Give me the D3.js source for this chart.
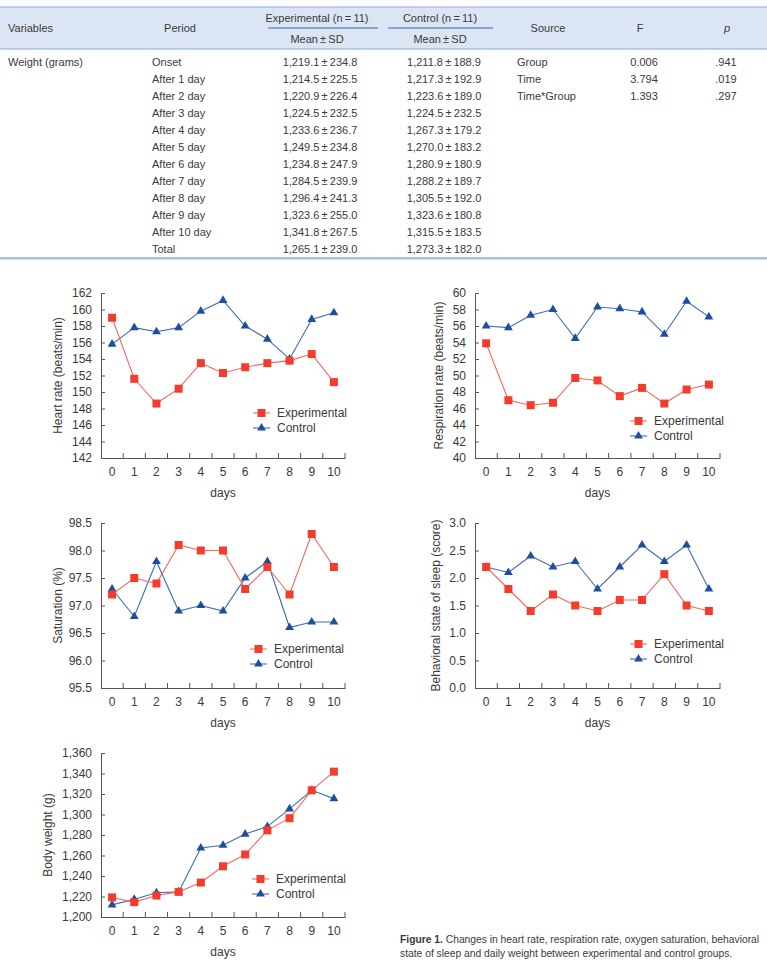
<!DOCTYPE html>
<html>
<head>
<meta charset="utf-8">
<script src="https://cdn.jsdelivr.net/npm/d3@7"></script>
<style>
  body { margin: 0; background: #fff; }
  svg text { font-family: "Liberation Sans Narrow", "Liberation Sans", "Open Sans", sans-serif; fill: #3a3a3a; }
</style>
</head>
<body>
<div id="vis"></div>
<script>
const width = 767;
const height = 961;

// table data
const periods = ["Onset", "After 1 day", "After 2 day", "After 3 day", "After 4 day", "After 5 day",
  "After 6 day", "After 7 day", "After 8 day", "After 9 day", "After 10 day", "Total"];
const expMean = ["1,219.1", "1,214.5", "1,220.9", "1,224.5", "1,233.6", "1,249.5", "1,234.8", "1,284.5", "1,296.4", "1,323.6", "1,341.8", "1,265.1"];
const expSD = ["234.8", "225.5", "226.4", "232.5", "236.7", "234.8", "247.9", "239.9", "241.3", "255.0", "267.5", "239.0"];
const ctlMean = ["1,211.8", "1,217.3", "1,223.6", "1,224.5", "1,267.3", "1,270.0", "1,280.9", "1,288.2", "1,305.5", "1,323.6", "1,315.5", "1,273.3"];
const ctlSD = ["188.9", "192.9", "189.0", "232.5", "179.2", "183.2", "180.9", "189.7", "192.0", "180.8", "183.5", "182.0"];
const sources = ["Group", "Time", "Time*Group"];
const fVals = ["0.006", "3.794", "1.393"];
const pVals = [".941", ".019", ".297"];

// chart data
const days = [0, 1, 2, 3, 4, 5, 6, 7, 8, 9, 10];
const hrExp = [159.0, 151.6, 148.6, 150.4, 153.5, 152.3, 153.0, 153.5, 153.8, 154.6, 151.2];
const hrCtl = [155.8, 157.8, 157.3, 157.8, 159.8, 161.1, 158.0, 156.4, 154.0, 158.8, 159.6];
const rrExp = [53.9, 47.0, 46.4, 46.7, 49.7, 49.4, 47.5, 48.5, 46.6, 48.3, 48.9];
const rrCtl = [56.0, 55.8, 57.3, 58.0, 54.5, 58.3, 58.1, 57.7, 55.0, 59.0, 57.1];
const satExp = [97.2, 97.5, 97.4, 98.1, 98.0, 98.0, 97.3, 97.7, 97.2, 98.3, 97.7];
const satCtl = [97.3, 96.8, 97.8, 96.9, 97.0, 96.9, 97.5, 97.8, 96.6, 96.7, 96.7];
const sleepExp = [2.2, 1.8, 1.4, 1.7, 1.5, 1.4, 1.6, 1.6, 2.07, 1.5, 1.4];
const sleepCtl = [2.2, 2.1, 2.4, 2.2, 2.3, 1.8, 2.2, 2.6, 2.3, 2.6, 1.8];
const bwExp = [1219.1, 1214.5, 1220.9, 1224.5, 1233.6, 1249.5, 1261.0, 1284.5, 1296.4, 1323.6, 1341.8];
const bwCtl = [1211.8, 1217.3, 1223.6, 1224.5, 1267.3, 1270.0, 1280.9, 1288.2, 1305.5, 1323.6, 1315.5];
const seriesNames = ["Experimental", "Control"];

const red = "#f43c2c", redLine = "#f26a5c";
const blue = "#1d4f9f", blueLine = "#3d6cb6";

const svg = d3.select("#vis").append("svg")
  .attr("width", width)
  .attr("height", height);

drawTable();

// chart boxes: left/right of x axis, top/bottom of y axis
const charts = [
  { exp: hrExp, ctl: hrCtl, domain: [142, 162], ticks: d3.range(142, 163, 2), fmt: d3.format("d"),
    label: "Heart rate (beats/min)", x0: 101, x1: 345, top: 293, bottom: 458, labX: 58, legX: 253, legY: 413 },
  { exp: rrExp, ctl: rrCtl, domain: [40, 60], ticks: d3.range(40, 61, 2), fmt: d3.format("d"),
    label: "Respiration rate (beats/min)", x0: 475, x1: 720, top: 293, bottom: 458, labX: 439, legX: 630, legY: 421 },
  { exp: satExp, ctl: satCtl, domain: [95.5, 98.5], ticks: d3.range(95.5, 98.51, 0.5), fmt: d3.format(".1f"),
    label: "Saturation (%)", x0: 101, x1: 345, top: 523, bottom: 688, labX: 58, legX: 250, legY: 649 },
  { exp: sleepExp, ctl: sleepCtl, domain: [0, 3], ticks: d3.range(0, 3.01, 0.5), fmt: d3.format(".1f"),
    label: "Behavioral state of sleep (score)", x0: 475, x1: 720, top: 523, bottom: 688, labX: 436, legX: 630, legY: 644 },
  { exp: bwExp, ctl: bwCtl, domain: [1200, 1360], ticks: d3.range(1200, 1361, 20), fmt: d3.format(","),
    label: "Body weight (g)", x0: 101, x1: 345, top: 753, bottom: 917, labX: 48, legX: 252, legY: 879 }
];

charts.forEach(drawChart);

// caption, squeezed horizontally to fit right of the last chart
const capG = svg.append("g").attr("transform", "translate(400,0) scale(0.895,1)");
const cap = capG.append("text").attr("x", 0).attr("y", 943).style("font-size", "11.5px");
cap.append("tspan").style("font-weight", "bold").text("Figure 1.");
cap.append("tspan").text(" Changes in heart rate, respiration rate, oxygen saturation, behavioral");
capG.append("text").attr("x", 0).attr("y", 957).style("font-size", "11.5px")
  .text("state of sleep and daily weight between experimental and control groups.");

function drawTable() {
  const g = svg.append("g").style("font-size", "11px");

  g.append("rect").attr("x", 0).attr("y", 7).attr("width", width).attr("height", 42).attr("fill", "#dce5f4");
  g.append("line").attr("x1", 0).attr("x2", width).attr("y1", 7).attr("y2", 7).attr("stroke", "#8ca7d6").attr("stroke-width", 1);
  g.append("line").attr("x1", 0).attr("x2", width).attr("y1", 49).attr("y2", 49).attr("stroke", "#8ca7d6").attr("stroke-width", 1);
  g.append("line").attr("x1", 268).attr("x2", 378).attr("y1", 28).attr("y2", 28).attr("stroke", "#6d8fcb").attr("stroke-width", 1.4);
  g.append("line").attr("x1", 388).attr("x2", 493).attr("y1", 28).attr("y2", 28).attr("stroke", "#6d8fcb").attr("stroke-width", 1.4);

  const head = [
    { t: "Variables", x: 8, y: 32, a: "start" },
    { t: "Period", x: 180, y: 32, a: "middle" },
    { t: "Experimental (n\u2009=\u200911)", x: 317, y: 22, a: "middle" },
    { t: "Control (n\u2009=\u200911)", x: 440, y: 22, a: "middle" },
    { t: "Mean\u2009\u00b1\u2009SD", x: 317, y: 43, a: "middle" },
    { t: "Mean\u2009\u00b1\u2009SD", x: 440, y: 43, a: "middle" },
    { t: "Source", x: 548, y: 32, a: "middle" },
    { t: "F", x: 640, y: 32, a: "middle" }
  ];
  g.selectAll(".head").data(head).enter().append("text")
    .attr("x", d => d.x).attr("y", d => d.y).attr("text-anchor", d => d.a).text(d => d.t);
  g.append("text").attr("x", 727).attr("y", 32).attr("text-anchor", "middle")
    .style("font-style", "italic").text("p");

  const rowY = i => 66 + i * 17;
  g.append("text").attr("x", 8).attr("y", rowY(0)).text("Weight (grams)");
  g.selectAll(".per").data(periods).enter().append("text")
    .attr("x", 152).attr("y", (d, i) => rowY(i)).text(d => d);
  g.selectAll(".em").data(expMean).enter().append("text")
    .attr("x", 320).attr("y", (d, i) => rowY(i)).attr("text-anchor", "middle")
    .text((d, i) => d + "\u2009\u00b1\u2009" + expSD[i]);
  g.selectAll(".cm").data(ctlMean).enter().append("text")
    .attr("x", 444).attr("y", (d, i) => rowY(i)).attr("text-anchor", "middle")
    .text((d, i) => d + "\u2009\u00b1\u2009" + ctlSD[i]);
  g.selectAll(".src").data(sources).enter().append("text")
    .attr("x", 517).attr("y", (d, i) => rowY(i)).text(d => d);
  g.selectAll(".fv").data(fVals).enter().append("text")
    .attr("x", 644).attr("y", (d, i) => rowY(i)).attr("text-anchor", "middle").text(d => d);
  g.selectAll(".pv").data(pVals).enter().append("text")
    .attr("x", 726).attr("y", (d, i) => rowY(i)).attr("text-anchor", "middle").text(d => d);

  g.append("rect").attr("x", 0).attr("y", 257).attr("width", width).attr("height", 2.5).attr("fill", "#a9bfe3");
}

function drawChart(c) {
  const g = svg.append("g");
  const x = d3.scaleBand().domain(days).range([c.x0, c.x1]).padding(0);
  const y = d3.scaleLinear().domain(c.domain).range([c.bottom, c.top]);
  const cx = d => x(d) + x.bandwidth() / 2;

  // y axis, ticks pointing inward
  const ya = g.append("g").attr("transform", `translate(${c.x0},0)`)
    .call(d3.axisLeft(y).tickValues(c.ticks).tickFormat(c.fmt).tickSizeInner(-4).tickSizeOuter(0).tickPadding(9));
  ya.select(".domain").attr("stroke", "#555");
  ya.selectAll(".tick line").attr("stroke", "#555");
  ya.selectAll("text").style("font-size", "12px").attr("fill", "#444")
    .style("font-family", "'Liberation Sans Narrow', 'Liberation Sans', sans-serif");

  // x axis, labels at band centres, ticks at band boundaries
  const xa = g.append("g").attr("transform", `translate(0,${c.bottom})`)
    .call(d3.axisBottom(x).tickSize(0).tickPadding(9));
  xa.select(".domain").attr("stroke", "#555");
  xa.selectAll("text").style("font-size", "12px").attr("fill", "#444")
    .style("font-family", "'Liberation Sans Narrow', 'Liberation Sans', sans-serif");
  g.selectAll(".bt").data(days).enter().append("line")
    .attr("x1", d => x(d) + x.bandwidth()).attr("x2", d => x(d) + x.bandwidth())
    .attr("y1", c.bottom).attr("y2", c.bottom - 5).attr("stroke", "#555");

  g.append("text").attr("x", (c.x0 + c.x1) / 2).attr("y", c.bottom + 39)
    .attr("text-anchor", "middle").style("font-size", "12px").text("days");
  g.append("text")
    .attr("transform", `translate(${c.labX},${(c.top + c.bottom) / 2}) rotate(-90)`)
    .attr("text-anchor", "middle").attr("dy", "0.35em").style("font-size", "12px").text(c.label);

  const line = d3.line().x((d, i) => cx(days[i])).y(d => y(d));

  g.append("path").datum(c.ctl).attr("d", line).attr("fill", "none").attr("stroke", blueLine).attr("stroke-width", 1.1);
  g.append("path").datum(c.exp).attr("d", line).attr("fill", "none").attr("stroke", redLine).attr("stroke-width", 1.1);

  const tri = d3.symbol().type(d3.symbolTriangle).size(34);
  g.selectAll(".ct").data(c.ctl).enter().append("path")
    .attr("d", tri).attr("fill", blue)
    .attr("transform", (d, i) => `translate(${cx(days[i])},${y(d)})`);
  g.selectAll(".es").data(c.exp).enter().append("rect")
    .attr("x", (d, i) => cx(days[i]) - 4).attr("y", d => y(d) - 4)
    .attr("width", 8).attr("height", 8).attr("fill", red);

  // legend
  const lg = g.append("g").attr("transform", `translate(${c.legX},${c.legY})`);
  seriesNames.forEach((name, k) => {
    const yy = k * 15;
    lg.append("line").attr("x1", 0).attr("x2", 17).attr("y1", yy).attr("y2", yy)
      .attr("stroke", k === 0 ? redLine : blueLine).attr("stroke-width", 1.1);
    if (k === 0) {
      lg.append("rect").attr("x", 4.5).attr("y", yy - 4).attr("width", 8).attr("height", 8).attr("fill", red);
    } else {
      lg.append("path").attr("d", tri).attr("fill", blue).attr("transform", `translate(8.5,${yy})`);
    }
    lg.append("text").attr("x", 24).attr("y", yy).attr("dy", "0.35em").style("font-size", "12px").text(name);
  });
}
</script>
</body>
</html>
